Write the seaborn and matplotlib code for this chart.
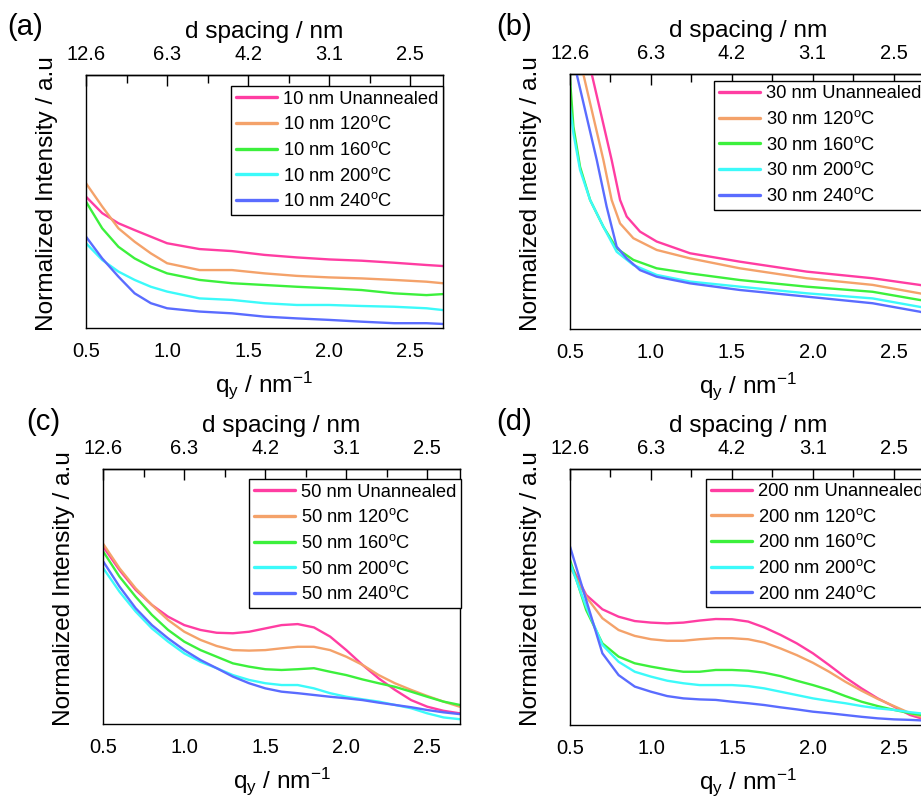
import numpy as np
import pandas as pd
import matplotlib
matplotlib.use("Agg")
import matplotlib.pyplot as plt
import seaborn as sns
from matplotlib.ticker import MultipleLocator

sns.set_style("white")
plt.rcParams['font.family'] = ['Liberation Sans', 'DejaVu Sans']
plt.rcParams['mathtext.fontset'] = 'custom'
plt.rcParams['mathtext.rm'] = 'Liberation Sans'
plt.rcParams['mathtext.it'] = 'Liberation Sans:italic'
plt.rcParams['text.color'] = 'black'
plt.rcParams['axes.labelcolor'] = 'black'
plt.rcParams['xtick.color'] = 'black'
plt.rcParams['ytick.color'] = 'black'

# ---------------- data ----------------
q_a = [0.5, 0.6, 0.7, 0.8, 0.9, 1.0, 1.2, 1.4, 1.6, 1.8, 2.0, 2.2, 2.4, 2.6, 2.7]
a_unann = [0.519, 0.454, 0.414, 0.387, 0.361, 0.335, 0.312, 0.304, 0.289, 0.279, 0.271, 0.266, 0.258, 0.249, 0.245]
a_120 = [0.572, 0.480, 0.394, 0.341, 0.295, 0.256, 0.229, 0.229, 0.216, 0.206, 0.200, 0.196, 0.190, 0.183, 0.177]
a_160 = [0.499, 0.394, 0.321, 0.275, 0.242, 0.216, 0.190, 0.177, 0.170, 0.163, 0.157, 0.150, 0.137, 0.130, 0.134]
a_200 = [0.335, 0.269, 0.223, 0.190, 0.163, 0.144, 0.117, 0.111, 0.098, 0.091, 0.091, 0.087, 0.084, 0.078, 0.071]
a_240 = [0.361, 0.275, 0.203, 0.137, 0.098, 0.078, 0.065, 0.058, 0.045, 0.038, 0.032, 0.025, 0.019, 0.019, 0.016]

q_b_unann = [0.58, 0.636, 0.70, 0.759, 0.811, 0.852, 0.934, 1.037, 1.243, 1.551, 1.963, 2.37, 2.66, 2.7]
b_unann = [1.15, 1.0, 0.825, 0.663, 0.506, 0.441, 0.382, 0.343, 0.297, 0.264, 0.225, 0.199, 0.173, 0.168]
q_b_120 = [0.53, 0.584, 0.708, 0.759, 0.811, 0.893, 1.037, 1.243, 1.551, 1.963, 2.37, 2.66, 2.7]
b_120 = [1.15, 1.0, 0.663, 0.506, 0.414, 0.356, 0.310, 0.277, 0.238, 0.199, 0.173, 0.140, 0.135]
q_b_240 = [0.50, 0.543, 0.667, 0.728, 0.79, 0.852, 0.934, 1.037, 1.243, 1.551, 1.963, 2.37, 2.66, 2.7]
b_240 = [1.12, 1.0, 0.663, 0.480, 0.323, 0.277, 0.231, 0.205, 0.179, 0.153, 0.127, 0.101, 0.068, 0.062]
q_b_160 = [0.50, 0.502, 0.523, 0.564, 0.626, 0.708, 0.79, 0.893, 1.037, 1.243, 1.551, 1.963, 2.37, 2.66, 2.7]
b_160 = [1.05, 0.98, 0.793, 0.636, 0.506, 0.401, 0.316, 0.271, 0.238, 0.218, 0.192, 0.166, 0.146, 0.114, 0.110]
q_b_200 = [0.50, 0.502, 0.523, 0.564, 0.626, 0.708, 0.79, 0.893, 1.037, 1.243, 1.551, 1.963, 2.37, 2.66, 2.7]
b_200 = [0.90, 0.878, 0.767, 0.624, 0.506, 0.401, 0.303, 0.251, 0.212, 0.186, 0.166, 0.140, 0.120, 0.087, 0.082]

q_cd = [0.5, 0.6, 0.7, 0.8, 0.9, 1.0, 1.1, 1.2, 1.3, 1.4, 1.5, 1.6, 1.7, 1.8, 1.9,
        2.0, 2.1, 2.2, 2.3, 2.4, 2.5, 2.6, 2.7]
c_unann = [0.696, 0.605, 0.527, 0.468, 0.422, 0.389, 0.370, 0.359, 0.357, 0.363, 0.376, 0.389,
           0.393, 0.380, 0.344, 0.291, 0.233, 0.180, 0.135, 0.095, 0.069, 0.053, 0.043]
c_120 = [0.707, 0.612, 0.533, 0.468, 0.409, 0.363, 0.331, 0.307, 0.291, 0.289, 0.291, 0.298,
         0.304, 0.304, 0.291, 0.265, 0.233, 0.193, 0.161, 0.135, 0.111, 0.089, 0.069]
c_160 = [0.677, 0.579, 0.500, 0.429, 0.370, 0.324, 0.291, 0.265, 0.239, 0.226, 0.216, 0.213,
         0.216, 0.220, 0.206, 0.193, 0.176, 0.161, 0.147, 0.128, 0.108, 0.089, 0.076]
c_200 = [0.612, 0.520, 0.442, 0.376, 0.324, 0.278, 0.245, 0.220, 0.193, 0.174, 0.161, 0.154,
         0.154, 0.141, 0.122, 0.108, 0.098, 0.089, 0.076, 0.063, 0.043, 0.027, 0.020]
c_240 = [0.638, 0.540, 0.455, 0.389, 0.337, 0.291, 0.252, 0.220, 0.187, 0.161, 0.141, 0.128,
         0.122, 0.115, 0.108, 0.102, 0.095, 0.085, 0.076, 0.067, 0.056, 0.047, 0.040]

d_unann = [0.632, 0.508, 0.452, 0.423, 0.406, 0.400, 0.397, 0.400, 0.408, 0.414, 0.413, 0.404,
           0.381, 0.352, 0.319, 0.280, 0.234, 0.186, 0.143, 0.104, 0.072, 0.039, 0.020]
d_120 = [0.618, 0.501, 0.417, 0.371, 0.348, 0.335, 0.329, 0.329, 0.335, 0.339, 0.339, 0.335,
         0.322, 0.299, 0.273, 0.243, 0.208, 0.169, 0.134, 0.102, 0.074, 0.046, 0.026]
d_160 = [0.645, 0.449, 0.319, 0.267, 0.241, 0.228, 0.217, 0.208, 0.208, 0.215, 0.215, 0.212,
         0.204, 0.191, 0.173, 0.156, 0.137, 0.113, 0.091, 0.074, 0.059, 0.046, 0.036]
d_200 = [0.632, 0.462, 0.313, 0.247, 0.208, 0.189, 0.173, 0.163, 0.156, 0.156, 0.156, 0.152,
         0.143, 0.130, 0.117, 0.104, 0.094, 0.085, 0.074, 0.065, 0.059, 0.050, 0.043]
d_240 = [0.697, 0.488, 0.280, 0.195, 0.150, 0.130, 0.113, 0.104, 0.100, 0.098, 0.091, 0.085,
         0.078, 0.069, 0.061, 0.052, 0.046, 0.039, 0.032, 0.026, 0.022, 0.020, 0.017]

conditions = ["Unannealed", "120$^{\\mathrm{o}}$C", "160$^{\\mathrm{o}}$C",
              "200$^{\\mathrm{o}}$C", "240$^{\\mathrm{o}}$C"]
colors = ["#FF3DA2", "#F4A26A", "#3CF03C", "#3CFAFA", "#5A6CFF"]

q_ticks = [0.5, 1.0, 1.5, 2.0, 2.5]
d_labels = ["12.6", "6.3", "4.2", "3.1", "2.5"]
q_labels = ["0.5", "1.0", "1.5", "2.0", "2.5"]

panels = [
    dict(tag="(a)", thick="10 nm",
         series=[(q_a, a_unann), (q_a, a_120), (q_a, a_160), (q_a, a_200), (q_a, a_240)]),
    dict(tag="(b)", thick="30 nm",
         series=[(q_b_unann, b_unann), (q_b_120, b_120), (q_b_160, b_160),
                 (q_b_200, b_200), (q_b_240, b_240)]),
    dict(tag="(c)", thick="50 nm",
         series=[(q_cd, c_unann), (q_cd, c_120), (q_cd, c_160), (q_cd, c_200), (q_cd, c_240)]),
    dict(tag="(d)", thick="200 nm",
         series=[(q_cd, d_unann), (q_cd, d_120), (q_cd, d_160), (q_cd, d_200), (q_cd, d_240)]),
]

W, H = 921, 796
fig = plt.figure(figsize=(W / 100, H / 100), dpi=100)

# axes boxes in pixels: left, top, right, bottom
boxes = [(86, 75, 442.7, 328), (569.7, 74, 926, 329),
         (103.3, 469.3, 459.7, 724.3), (570, 469, 926.3, 725)]
legend_tops = [86, 80.7, 479, 478.5]
legend_lefts = [231, 714, 249, 706]
tag_pos = [(7, 27), (496, 27), (26, 422), (496, 422)]

FS_TICK = 14.5
FS_LAB = 17.6

for p, (l, t, r, b), ltop, lleft, (tx, ty) in zip(panels, boxes, legend_tops, legend_lefts, tag_pos):
    ax = fig.add_axes([l / W, 1 - b / H, (r - l) / W, (b - t) / H])
    for (qq, yy), cond, col in zip(p["series"], conditions, colors):
        df = pd.DataFrame({"q": qq, "I": yy})
        sns.lineplot(data=df, x="q", y="I", ax=ax, color=col, linewidth=1.7,
                     label=f"{p['thick']} {cond}", sort=False, estimator=None)
    ax.set_xlim(0.5, 2.7)
    ax.set_ylim(0, 1)
    ax.set_yticks([])
    ax.set_xticks(q_ticks, labels=q_labels)
    ax.xaxis.set_minor_locator(MultipleLocator(0.25))
    ax.tick_params(axis="x", which="major", direction="in", length=8, width=1,
                   labelsize=FS_TICK, pad=10, top=False, colors="black")
    ax.tick_params(axis="x", which="minor", direction="in", length=6, width=1, top=False,
                   colors="black")
    for s in ax.spines.values():
        s.set_visible(True)
        s.set_color("black")
        s.set_linewidth(1.0)
    ax.set_xlabel("q$_{\\mathrm{y}}$ / nm$^{-1}$", fontsize=FS_LAB, labelpad=6, color="black")
    ax.set_ylabel("Normalized Intensity / a.u", fontsize=FS_LAB, color="black")
    ax.yaxis.set_label_coords(-0.079, 0.532)

    sec = ax.secondary_xaxis("top")
    sec.set_xticks(q_ticks, labels=d_labels)
    sec.xaxis.set_minor_locator(MultipleLocator(0.25))
    sec.tick_params(axis="x", which="major", direction="in", length=8, width=1,
                    labelsize=FS_TICK, pad=8, colors="black")
    sec.tick_params(axis="x", which="minor", direction="in", length=6, width=1, colors="black")
    sec.spines["top"].set_linewidth(1.0)
    sec.spines["top"].set_color("black")
    sec.set_xlabel("d spacing / nm", fontsize=FS_LAB, labelpad=5, color="black")

    axw = r - l
    axh = b - t
    leg = ax.legend(loc="upper left",
                    bbox_to_anchor=((lleft - l) / axw, (b - ltop) / axh),
                    fontsize=13.2, frameon=True, fancybox=False, framealpha=1,
                    edgecolor="black", handlelength=2.25, handletextpad=0.33,
                    labelspacing=0.42, borderpad=0.25, borderaxespad=0)
    leg.get_frame().set_linewidth(1.0)
    for txt in leg.get_texts():
        txt.set_color("black")
    for h in leg.get_lines():
        h.set_linewidth(2.4)

    fig.text(tx / W, 1 - ty / H, p["tag"], fontsize=21, ha="left", va="center", color="black")

fig.savefig("out.png", dpi=100)
